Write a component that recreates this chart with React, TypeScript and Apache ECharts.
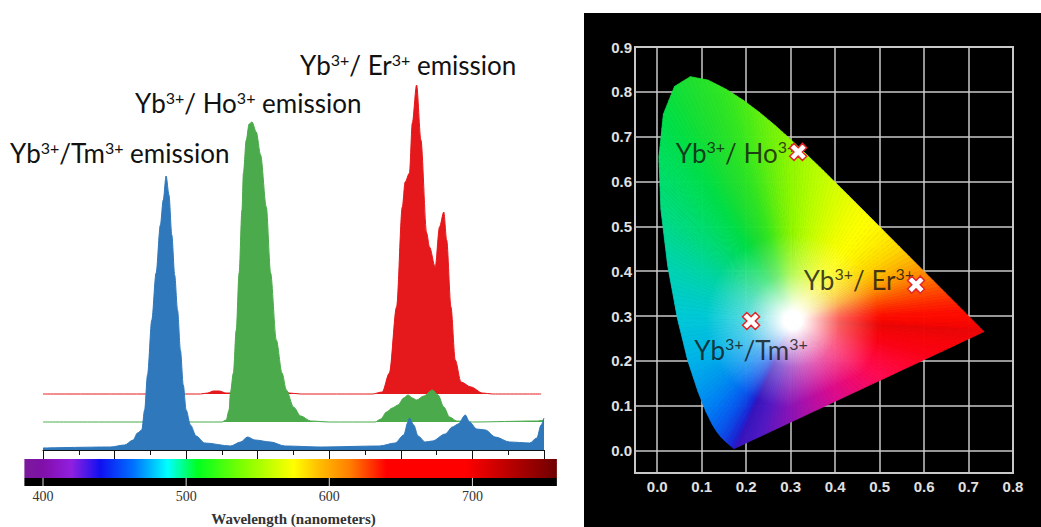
import React, { useEffect, useRef } from 'react';
import * as echarts from 'echarts';

// ---------- Upconversion emission spectra: [wavelength (nm), signal] ----------
const tmSpectrum: [number, number][] = [
  [400, 2], [447, 3], [457, 5], [463, 10], [466, 17], [469, 20], [471, 40], [473, 75],
  [476, 130], [479, 177], [482, 225], [484, 250], [486, 274], [488, 255], [490, 215],
  [492, 175], [494, 140], [496, 100], [498, 65], [500, 40], [503, 25], [507, 14], [513, 7],
  [531, 4], [538, 8], [543, 13], [548, 10], [559, 8], [569, 4], [594, 3], [635, 4],
  [646, 7], [652, 15], [655, 28], [656, 32], [659, 25], [662, 14], [667, 8], [672, 9],
  [681, 16], [686, 23], [690, 26], [695, 35], [698, 28], [703, 21], [709, 20], [716, 13],
  [726, 8], [740, 7], [745, 12], [748, 25], [750, 32],
];
const hoBaseline = 28;
const hoSpectrum: [number, number][] = [
  [400, 28], [500, 28], [525, 28], [528, 30], [530, 40], [531, 58], [533, 77], [535, 120],
  [537, 177], [539, 240], [540, 277], [542, 310], [544, 326], [546, 328], [549, 318],
  [552, 295], [556, 243], [559, 177], [563, 110], [567, 77], [570, 60], [575, 43],
  [580, 34], [587, 29], [600, 28], [632, 28], [636, 31], [640, 38], [644, 42], [648, 45],
  [652, 52], [655, 55], [658, 52], [661, 50], [666, 54], [672, 60], [676, 55], [680, 43],
  [684, 33], [689, 29], [700, 28], [745, 29], [750, 30],
];
const erBaseline = 56;
const erSpectrum: [number, number][] = [
  [400, 56], [510, 56], [515, 57], [519, 59], [523, 59], [528, 57], [560, 56], [565, 57],
  [568, 59], [572, 57], [580, 56], [630, 56], [637, 58], [642, 77], [647, 143], [651, 243],
  [653, 268], [656, 277], [658, 327], [661, 365], [664, 310], [668, 217], [670, 203],
  [674, 183], [677, 223], [680, 238], [682, 210], [685, 143], [688, 90], [692, 68],
  [699, 63], [707, 57], [714, 56], [748, 56],
];

const tmColor = '#2f78bb';
const hoColor = '#4baa4b';
const erColor = '#e5181b';

// ---------- Visible spectrum strip ----------
const stripNm = [387, 400, 408, 420, 440, 463, 487, 508, 540, 575, 592, 614, 640, 695, 723, 759];
const stripColors = [
  '#7a1a9a', '#8010a8', '#8a14c0', '#9020e0', '#1010f0', '#0070ff', '#00ffff', '#00ff20',
  '#80ff00', '#ffff00', '#ffc000', '#ff8000', '#ff0000', '#ff0000', '#c00000', '#700000',
];
const stripTicks = [400, 500, 600, 700];

// ---------- CIE 1931 chromaticity: spectral locus and line of purples ----------
const locusNm = [
  380, 400, 420, 440, 450, 455, 460, 465, 470, 475, 480, 485, 490, 495, 500, 505, 510, 515,
  520, 525, 530, 535, 540, 545, 550, 555, 560, 565, 570, 575, 580, 585, 590, 595, 600, 605,
  610, 615, 620, 630, 640, 650, 660, 700,
];
const locusX = [
  0.1741, 0.1733, 0.1714, 0.1644, 0.1566, 0.151, 0.144, 0.1355, 0.1241, 0.1096, 0.0913,
  0.0687, 0.0454, 0.0235, 0.0082, 0.0039, 0.0139, 0.0389, 0.0743, 0.1142, 0.1547, 0.1929,
  0.2296, 0.2658, 0.3016, 0.3373, 0.3731, 0.4087, 0.4441, 0.4788, 0.5125, 0.5448, 0.5752,
  0.6029, 0.627, 0.6482, 0.6658, 0.6801, 0.6915, 0.7079, 0.719, 0.726, 0.73, 0.7347,
];
const locusY = [
  0.005, 0.0048, 0.0051, 0.0109, 0.0177, 0.0227, 0.0297, 0.0399, 0.0578, 0.0868, 0.1327,
  0.2007, 0.295, 0.4127, 0.5384, 0.6548, 0.7502, 0.812, 0.8338, 0.8262, 0.8059, 0.7816,
  0.7543, 0.7243, 0.6923, 0.6589, 0.6245, 0.5896, 0.5547, 0.5202, 0.4866, 0.4544, 0.4242,
  0.3965, 0.3725, 0.3514, 0.334, 0.3197, 0.3083, 0.292, 0.2809, 0.274, 0.27, 0.2653,
];
const locusColors = [
  '#3414bc', '#2c16c4', '#2418cc', '#1a28d4', '#1434dc', '#1040e2', '#0c4cea', '#0858ee',
  '#0468f2', '#0080f4', '#0098f0', '#00b4e8', '#00c8d8', '#00d4b0', '#00dc80', '#00e060',
  '#00e048', '#10e038', '#20e030', '#28e428', '#34e820', '#48ec18', '#60f010', '#78f408',
  '#90f800', '#a8fc00', '#c0ff00', '#d8ff00', '#f0ff00', '#ffff00', '#fff000', '#ffd800',
  '#ffb400', '#ff8c00', '#ff6000', '#ff4000', '#ff2800', '#ff1800', '#ff0c00', '#fc0800',
  '#f80600', '#f40404', '#f00404', '#ea0606',
];
const purpleX = [0.6786, 0.6226, 0.5665, 0.5105, 0.4544, 0.3983, 0.3423, 0.2862, 0.2302];
const purpleY = [0.2393, 0.2132, 0.1872, 0.1612, 0.1352, 0.1091, 0.0831, 0.0571, 0.031];
const purpleColors = [
  '#f80408', '#fc0214', '#ff0630', '#ff0a50', '#f00a70', '#d80c90', '#b010a8', '#8014b8', '#5018c4',
];
const whitePoint = [0.305, 0.29];

// ---------- Measured colour coordinates ----------
const sampleNames = ['Ho', 'Er', 'Tm'];
const sampleX = [0.317, 0.582, 0.211];
const sampleY = [0.666, 0.37, 0.289];

const labelFont = 'Lato';
const rich = {
  n: { fontFamily: labelFont, fontSize: 26, color: '#111', fill: '#111', lineHeight: 32, verticalAlign: 'bottom' },
  s: { fontFamily: labelFont, fontSize: 16, color: '#111', fill: '#111', lineHeight: 20, verticalAlign: 'top', padding: [5, 0, 0, 0] },
};

const ionText = (ion: string, spaced: boolean) => `{n|Yb}{s|3+}{n|/${spaced ? ' ' : ''}${ion}}{s|3+}`;

function hexRgb(h: string): number[] {
  const v = h.replace('#', '');
  return [0, 2, 4].map((i) => parseInt(v.slice(i, i + 2), 16));
}
function mixRgb(a: string, b: string, t: number): string {
  const p = hexRgb(a);
  const q = hexRgb(b);
  const c = p.map((v, i) => Math.round(v + (q[i] - v) * t));
  return '#' + c.map((v) => v.toString(16).padStart(2, '0')).join('');
}

function buildOption(): any {
  const boundary: { x: number; y: number; c: string }[] = [];
  locusX.forEach((x, i) => boundary.push({ x, y: locusY[i], c: locusColors[i] }));
  purpleX.forEach((x, i) => boundary.push({ x, y: purpleY[i], c: purpleColors[i] }));

  // Chromaticity gamut: a fan of thin wedges, each shading from the white point to its edge colour
  const gamutRender = (_params: any, api: any) => {
    const c = api.coord(whitePoint);
    const children: any[] = [];
    const n = boundary.length;
    for (let i = 0; i < n; i++) {
      const a = boundary[i];
      const b = boundary[(i + 1) % n];
      const pa = api.coord([a.x, a.y]);
      const pb = api.coord([b.x, b.y]);
      const seg = Math.hypot(pb[0] - pa[0], pb[1] - pa[1]);
      const k = Math.max(1, Math.ceil(seg / 5));
      for (let j = 0; j < k; j++) {
        const t0 = j / k;
        const t1 = (j + 1) / k;
        const p0 = [pa[0] + (pb[0] - pa[0]) * t0, pa[1] + (pb[1] - pa[1]) * t0];
        const p1 = [pa[0] + (pb[0] - pa[0]) * t1, pa[1] + (pb[1] - pa[1]) * t1];
        const col = mixRgb(a.c, b.c, (t0 + t1) / 2);
        const m = [(p0[0] + p1[0]) / 2, (p0[1] + p1[1]) / 2];
        const L = Math.max(1, Math.hypot(m[0] - c[0], m[1] - c[1]));
        const o1 = Math.min(0.3, 9 / L);
        const o2 = Math.min(0.6, o1 + 38 / L);
        const o3 = Math.min(0.85, o2 + 40 / L);
        const grad = new echarts.graphic.LinearGradient(
          c[0], c[1], m[0], m[1],
          [
            { offset: 0, color: '#ffffff' },
            { offset: o1, color: '#ffffff' },
            { offset: o2, color: mixRgb('#ffffff', col, 0.65) },
            { offset: o3, color: col },
            { offset: 1, color: col },
          ],
          true,
        );
        children.push({
          type: 'polygon',
          shape: { points: [c, p0, p1] },
          style: { fill: grad, stroke: grad, lineWidth: 0.8 },
        });
      }
    }
    return { type: 'group', children };
  };

  const stripRender = (_params: any, api: any) => {
    const tl = api.coord([stripNm[0], 1]);
    const br = api.coord([stripNm[stripNm.length - 1], 0]);
    const mid = api.coord([stripNm[0], 0.3]);
    const span = stripNm[stripNm.length - 1] - stripNm[0];
    const grad = new echarts.graphic.LinearGradient(
      tl[0], 0, br[0], 0,
      stripNm.map((nm, i) => ({ offset: (nm - stripNm[0]) / span, color: stripColors[i] })),
      true,
    );
    const children: any[] = [
      { type: 'rect', shape: { x: tl[0], y: tl[1], width: br[0] - tl[0], height: mid[1] - tl[1] }, style: { fill: grad } },
      { type: 'rect', shape: { x: tl[0], y: mid[1], width: br[0] - tl[0], height: br[1] - mid[1] }, style: { fill: '#000' } },
    ];
    stripTicks.forEach((nm) => {
      const p = api.coord([nm, 0]);
      children.push({
        type: 'line',
        shape: { x1: p[0], y1: mid[1], x2: p[0], y2: br[1] },
        style: { stroke: '#d8d8d8', lineWidth: 1 },
      });
    });
    return { type: 'group', children };
  };

  const spectrumSeries = (name: string, data: [number, number][], color: string, origin: any, z: number) => ({
    name,
    type: 'line',
    xAxisIndex: 0,
    yAxisIndex: 0,
    data,
    z,
    showSymbol: false,
    smooth: 0.3,
    smoothMonotone: 'x',
    lineStyle: { width: 1, color },
    itemStyle: { color },
    areaStyle: { color, opacity: 1, origin },
  });

  const cieLabelStyle = { color: '#e0e0e0', fontFamily: 'Liberation Sans', fontWeight: 'bold', fontSize: 15 };
  const gridLine = { color: '#c8c8c8', width: 1.5 };

  const labelPos: Record<string, any> = {
    Ho: { position: 'left', offset: [3, -2], text: ionText('Ho', true) },
    Er: { position: 'left', offset: [3, -8], text: ionText('Er', true) },
    Tm: { position: 'bottom', offset: [0, 5], text: ionText('Tm', false) },
  };

  return {
    animation: false,
    backgroundColor: '#ffffff',
    graphic: {
      elements: [
        { type: 'rect', z: -10, shape: { x: 584, y: 13, width: 457, height: 514 }, style: { fill: '#000' } },
        {
          type: 'text', z: 10,
          style: { x: 10, y: 150, text: `{n|Yb}{s|3+}{n|/Tm}{s|3+}{n| emission}`, rich, verticalAlign: 'middle', align: 'left' },
        },
        {
          type: 'text', z: 10,
          style: { x: 135, y: 100, text: `{n|Yb}{s|3+}{n|/ Ho}{s|3+}{n| emission}`, rich, verticalAlign: 'middle', align: 'left' },
        },
        {
          type: 'text', z: 10,
          style: { x: 300, y: 62, text: `{n|Yb}{s|3+}{n|/ Er}{s|3+}{n| emission}`, rich, verticalAlign: 'middle', align: 'left' },
        },
      ],
    },
    grid: [
      { left: 43, top: 50, width: 501, height: 400 },
      { left: 43, top: 459, width: 501, height: 27 },
      {
        left: 635, top: 47, width: 378, height: 426,
        show: true, borderColor: '#c8c8c8', borderWidth: 2, backgroundColor: 'transparent',
      },
    ],
    xAxis: [
      {
        gridIndex: 0, type: 'value', min: 400, max: 750, interval: 50,
        axisLine: { show: true, lineStyle: { color: '#111', width: 1 } },
        axisTick: { show: true, length: 9, lineStyle: { color: '#111', width: 1 } },
        minorTick: { show: true, splitNumber: 2, length: 5, lineStyle: { color: '#111', width: 1 } },
        axisLabel: { show: false },
        splitLine: { show: false },
      },
      {
        gridIndex: 1, type: 'value', min: 400, max: 750, interval: 100, position: 'bottom',
        axisLine: { show: false }, axisTick: { show: false }, splitLine: { show: false },
        axisLabel: { show: true, showMaxLabel: false, margin: 3, color: '#333', fontFamily: 'Liberation Serif', fontSize: 14 },
        name: 'Wavelength (nanometers)', nameLocation: 'middle', nameGap: 25,
        nameTextStyle: { color: '#333', fontFamily: 'Liberation Serif', fontSize: 15, fontWeight: 'bold' },
      },
      {
        gridIndex: 2, type: 'value', min: -0.05, max: 0.8, splitNumber: 8,
        axisLine: { show: false }, axisTick: { show: false },
        splitLine: { show: true, lineStyle: gridLine },
        axisLabel: { ...cieLabelStyle, showMinLabel: false, margin: 6, formatter: (v: number) => v.toFixed(1) },
      },
    ],
    yAxis: [
      { gridIndex: 0, type: 'value', min: 0, max: 400, show: false },
      { gridIndex: 1, type: 'value', min: 0, max: 1, show: false },
      {
        gridIndex: 2, type: 'value', min: -0.05, max: 0.9, splitNumber: 9,
        axisLine: { show: false }, axisTick: { show: false },
        splitLine: { show: true, lineStyle: gridLine },
        axisLabel: { ...cieLabelStyle, showMinLabel: false, margin: 3, formatter: (v: number) => v.toFixed(1) },
      },
    ],
    series: [
      spectrumSeries('Yb/Er', erSpectrum, erColor, erBaseline, 2),
      spectrumSeries('Yb/Ho', hoSpectrum, hoColor, hoBaseline, 3),
      spectrumSeries('Yb/Tm', tmSpectrum, tmColor, 'start', 4),
      {
        type: 'custom', xAxisIndex: 1, yAxisIndex: 1, clip: false, silent: true,
        data: [[stripNm[0], 0]], renderItem: stripRender,
      },
      {
        type: 'custom', xAxisIndex: 2, yAxisIndex: 2, clip: false, silent: true, z: 2,
        data: [whitePoint], renderItem: gamutRender,
      },
      {
        type: 'scatter', xAxisIndex: 2, yAxisIndex: 2, z: 4, symbolSize: 0, silent: true,
        data: sampleNames.map((nm, i) => ({
          value: [sampleX[i], sampleY[i]],
          label: {
            show: true,
            position: labelPos[nm].position,
            offset: labelPos[nm].offset,
            distance: 5,
            formatter: labelPos[nm].text,
            rich,
          },
        })),
      },
      {
        type: 'scatter', xAxisIndex: 2, yAxisIndex: 2, z: 6, silent: true,
        symbol: 'path://M2.5,0L5,2.5L7.5,0L10,2.5L7.5,5L10,7.5L7.5,10L5,7.5L2.5,10L0,7.5L2.5,5L0,2.5Z',
        symbolSize: 17,
        itemStyle: { color: '#ffffff', borderColor: '#e3262a', borderWidth: 1.5, opacity: 1 },
        data: sampleNames.map((_, i) => [sampleX[i], sampleY[i]]),
      },
    ],
  };
}

export default function App() {
  const ref = useRef<HTMLDivElement>(null);
  useEffect(() => {
    if (!ref.current) return;
    const chart = echarts.init(ref.current, undefined, { renderer: 'svg' });
    chart.setOption(buildOption());
    return () => chart.dispose();
  }, []);
  return (
    <div
      ref={ref}
      style={{ position: 'absolute', left: 0, top: 0, width: 1041, height: 527, background: '#fff' }}
    />
  );
}
